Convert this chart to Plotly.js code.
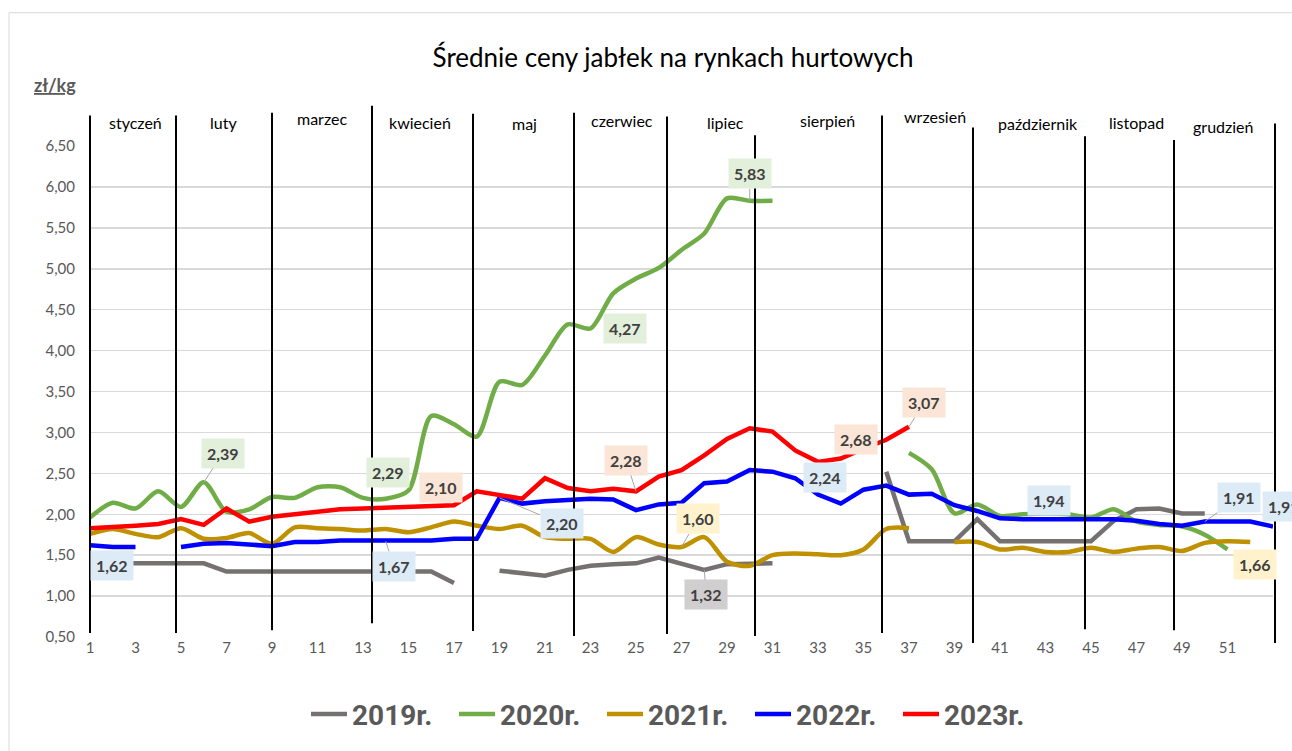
<!DOCTYPE html>
<html>
<head>
<meta charset="utf-8">
<script src="https://cdn.plot.ly/plotly-3.0.1.min.js"></script>
<style>
  html, body { margin: 0; padding: 0; background: #fff; }
  #chart { width: 1292px; height: 751px; }
</style>
</head>
<body>
<div id="chart"></div>
<script>
// ---- DATA ----
const weeks = [1,2,3,4,5,6,7,8,9,10,11,12,13,14,15,16,17,18,19,20,21,22,23,24,25,26,27,28,29,30,31,32,33,34,35,36,37,38,39,40,41,42,43,44,45,46,47,48,49,50,51,52,53];
const xTickVals = [1,3,5,7,9,11,13,15,17,19,21,23,25,27,29,31,33,35,37,39,41,43,45,47,49,51];
const months = ["styczeń","luty","marzec","kwiecień","maj","czerwiec","lipiec","sierpień","wrzesień","październik","listopad","grudzień"];
const seriesNames = ["2019r.","2020r.","2021r.","2022r.","2023r."];

const y2019 = [1.40,1.40,1.40,1.40,1.40,1.40,1.30,1.30,1.30,1.30,1.30,1.30,1.30,1.30,1.30,1.30,1.16,null,1.31,1.28,1.25,1.32,1.37,1.39,1.40,1.47,1.39,1.32,1.39,1.40,1.40,null,null,null,null,2.52,1.67,1.67,1.67,1.94,1.67,1.67,1.67,1.67,1.67,1.92,2.06,2.07,2.01,2.01,null,null,null];
const y2020 = [1.96,2.14,2.07,2.28,2.09,2.39,2.03,2.06,2.21,2.20,2.33,2.33,2.20,2.19,2.29,3.20,3.10,2.95,3.62,3.58,3.94,4.32,4.27,4.70,4.88,5.01,5.23,5.43,5.86,5.83,5.83,null,null,null,null,null,2.75,2.55,2.01,2.12,1.98,2.00,2.01,2.00,1.96,2.06,1.91,1.87,1.85,1.75,1.57,null,null];
const y2021 = [1.76,1.82,1.76,1.72,1.83,1.70,1.71,1.77,1.64,1.84,1.83,1.82,1.80,1.82,1.78,1.84,1.91,1.86,1.82,1.86,1.72,1.70,1.70,1.54,1.72,1.63,1.60,1.72,1.42,1.37,1.50,1.52,1.51,1.50,1.57,1.82,1.83,null,1.66,1.66,1.57,1.59,1.54,1.54,1.59,1.54,1.58,1.60,1.55,1.65,1.67,1.66,null];
const y2022 = [1.62,1.60,1.60,null,1.60,1.64,1.65,1.63,1.61,1.66,1.66,1.68,1.68,1.67,1.68,1.68,1.70,1.70,2.20,2.13,2.16,2.18,2.19,2.18,2.05,2.12,2.14,2.38,2.40,2.54,2.52,2.44,2.24,2.13,2.30,2.35,2.24,2.25,2.11,2.04,1.95,1.94,1.94,1.94,1.94,1.94,1.92,1.88,1.86,1.91,1.91,1.91,1.85];
const y2023 = [1.83,1.84,1.86,1.88,1.94,1.87,2.07,1.91,1.97,2.00,2.03,2.06,2.07,2.08,2.09,2.10,2.11,2.28,2.23,2.19,2.44,2.32,2.28,2.31,2.28,2.46,2.54,2.72,2.92,3.05,3.01,2.78,2.64,2.68,2.80,2.91,3.07,null,null,null,null,null,null,null,null,null,null,null,null,null,null,null,null];

// ---- STYLE / LAYOUT HELPERS ----
const L = 90, R = 1273, T = 146, B = 647;
const px2x = p => (p - L) / (R - L);
const px2y = p => (B - p) / (B - T);
const FONT = "Lato, 'Open Sans', sans-serif";

const seriesData = [y2019, y2020, y2021, y2022, y2023];
const colors = ["#767171", "#70AD47", "#BF9000", "#0000FF", "#FF0000"];
const shapesLine = ["linear", "spline", "spline", "linear", "linear"];
const labelBg = ["#D0CECE", "#E2EFDA", "#FFF2CC", "#DDEBF7", "#FBE5D6"];

const traces = seriesData.map((ys, i) => ({
  x: weeks, y: ys, type: "scatter", mode: "lines", name: seriesNames[i],
  connectgaps: false,
  line: { color: colors[i], width: 4.5, shape: shapesLine[i], smoothing: 0.8 },
  hoverinfo: "skip"
}));

// month separator lines (pixel positions) and month label positions
const sepX   = [90, 176, 272, 372, 473, 574, 667, 755, 882, 973, 1085, 1174, 1275];
const sepTop = [115, 115, 112, 105, 113, 112, 116, 135, 115, 127, 136, 140, 123];
const sepBot = [643, 643, 640, 633, 641, 646, 644, 646, 643, 653, 639, 640, 653];
const monthX = [135, 223, 322, 420, 524, 622, 725, 827, 935, 1038, 1136, 1223];
const monthY = [122, 122, 118, 122, 123, 120, 122, 120, 116, 123, 122, 126];

const shapes = sepX.map((x, i) => ({
  type: "line", xref: "paper", yref: "paper", layer: "above",
  x0: px2x(x), x1: px2x(x), y0: px2y(sepBot[i]), y1: px2y(sepTop[i]),
  line: { color: "#000000", width: 2 }
}));
shapes.push({
  type: "rect", xref: "paper", yref: "paper", layer: "below",
  x0: px2x(9), x1: px2x(1310), y0: px2y(770), y1: px2y(10),
  line: { color: "#D9D9D9", width: 1 }
});

const annotations = months.map((m, i) => ({
  xref: "paper", yref: "paper", x: px2x(monthX[i]), y: px2y(monthY[i]),
  xanchor: "center", yanchor: "middle", showarrow: false, text: m,
  font: { family: FONT, size: 16, color: "#000000" }
}));
annotations.push({
  xref: "paper", yref: "paper", x: px2x(55), y: px2y(84),
  xanchor: "center", yanchor: "middle", showarrow: false, text: "<b><u>zł/kg</u></b>",
  font: { family: FONT, size: 18, color: "#595959" }
});

// data labels: [series index, week, dx, dy, leader]
const labels = [
  [3, 1, 22, 20, false],
  [1, 6, 19, -29, true],
  [1, 15, -21, -18, false],
  [4, 16, 10, -19, false],
  [3, 14, 8, 25, true],
  [3, 19, 62, 26, true],
  [1, 23, 34, 0, false],
  [1, 30, 0, -27, true],
  [4, 25, -10, -31, true],
  [2, 27, 16, -28, true],
  [0, 28, 2, 25, true],
  [3, 33, 7, -17, false],
  [4, 34, 15, -19, false],
  [4, 37, 15, -24, true],
  [3, 43, 3, -19, false],
  [3, 50, 34, -24, true],
  [3, 52, 34, -15, false],
  [2, 52, 5, 22, false]
];
labels.forEach(([s, w, dx, dy, leader]) => {
  const v = seriesData[s][w - 1];
  const a = {
    xref: "x", yref: "y", x: w, y: v,
    text: "<b>" + v.toFixed(2).replace(".", ",") + "</b>",
    font: { family: FONT, size: 16, color: "#404040" },
    bgcolor: labelBg[s], borderpad: 5
  };
  if (leader) {
    Object.assign(a, { showarrow: true, ax: dx, ay: dy, arrowhead: 0, arrowwidth: 1, arrowcolor: "#A6A6A6", standoff: 0 });
  } else {
    Object.assign(a, { showarrow: false, xanchor: "center", yanchor: "middle", xshift: dx, yshift: -dy });
  }
  annotations.push(a);
});

const layout = {
  width: 1292, height: 751,
  margin: { l: L, r: 1292 - R, t: T, b: 751 - B, pad: 0 },
  paper_bgcolor: "#ffffff", plot_bgcolor: "#ffffff",
  separators: ",.",
  showlegend: true,
  title: {
    text: "Średnie ceny jabłek na rynkach hurtowych",
    x: 673 / 1292, xanchor: "center", xref: "container",
    y: 1 - 58 / 751, yanchor: "middle", yref: "container",
    font: { family: FONT, size: 26, color: "#000000" }
  },
  xaxis: {
    range: [1, 53], tickvals: xTickVals, ticktext: xTickVals.map(String),
    showgrid: false, zeroline: false, showline: false, ticks: "",
    tickfont: { family: FONT, size: 15, color: "#595959" }, fixedrange: true
  },
  yaxis: {
    range: [0.5, 6.5], dtick: 0.5, tick0: 0.5, tickformat: ".2f",
    showgrid: true, gridcolor: "#D9D9D9", gridwidth: 1.5,
    zeroline: false, showline: false, ticks: "", ticklabelstandoff: 14,
    tickfont: { family: FONT, size: 15, color: "#595959" }, fixedrange: true
  },
  legend: {
    orientation: "h", x: px2x(676), xanchor: "center", y: px2y(726), yanchor: "middle",
    font: { family: "Roboto, Lato, sans-serif", size: 28, color: "#595959", weight: "bold" },
    entrywidth: 97, entrywidthmode: "pixels", itemwidth: 36, traceorder: "normal"
  },
  shapes: shapes,
  annotations: annotations
};

Plotly.newPlot("chart", traces, layout, { staticPlot: true, displayModeBar: false });
</script>
</body>
</html>
